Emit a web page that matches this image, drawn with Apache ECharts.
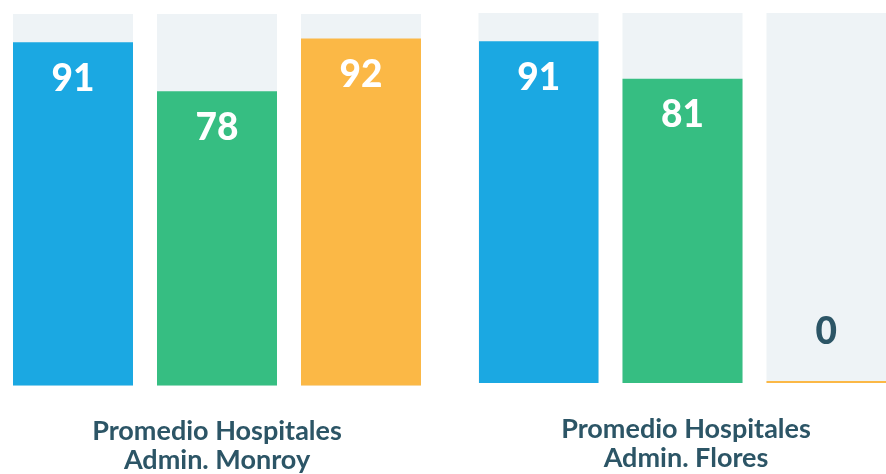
<!DOCTYPE html>
<html>
<head>
<meta charset="utf-8">
<script src="https://cdn.jsdelivr.net/npm/echarts@6/dist/echarts.min.js"></script>
<style>
html,body{margin:0;padding:0;background:#fff;}
#c{width:886px;height:474px;}
</style>
</head>
<body>
<div id="c"></div>
<script>
const groupLabels = ['Promedio Hospitales\nAdmin. Monroy', 'Promedio Hospitales\nAdmin. Flores'];
const blueValues = [91, 91];
const greenValues = [78, 81];
const orangeValues = [92, 0];
const axisMax = 98.5;

const colors = ['#1ba8e2', '#36be82', '#fbb846'];
const dark = '#2c5566';
const bg = '#eef3f6';

const chart = echarts.init(document.getElementById('c'));

function makeSeries(name, values, color) {
  return values.map((v, g) => ({
    type: 'bar',
    name: name,
    xAxisIndex: g,
    yAxisIndex: g,
    barWidth: 120,
    barGap: '20%',
    barMinHeight: 2,
    showBackground: true,
    backgroundStyle: { color: bg },
    itemStyle: { color: color },
    label: {
      show: true,
      position: 'insideTop',
      distance: 18,
      color: '#fff',
      fontFamily: 'Lato',
      fontWeight: 900,
      fontSize: 37
    },
    data: [v === 0 ? {
      value: v,
      label: { position: 'top', distance: 30, color: dark }
    } : v]
  }));
}

const all = [].concat(
  makeSeries('blue', blueValues, colors[0]),
  makeSeries('green', greenValues, colors[1]),
  makeSeries('orange', orangeValues, colors[2])
);
const series = [];
[0, 1].forEach(g => all.filter(s => s.xAxisIndex === g).forEach(s => series.push(s)));

chart.setOption({
  animation: false,
  grid: [
    { left: 13, width: 408, top: 14, height: 371.5, outerBoundsMode: 'none', containLabel: false },
    { left: 479, width: 407, top: 13, height: 370, outerBoundsMode: 'none', containLabel: false }
  ],
  xAxis: [0, 1].map(g => ({
    type: 'category',
    gridIndex: g,
    data: [groupLabels[g]],
    axisLine: { show: false },
    axisTick: { show: false },
    axisLabel: {
      margin: g === 0 ? 31 : 31.5,
      color: dark,
      fontFamily: 'Lato',
      fontWeight: 'bold',
      fontSize: 27,
      lineHeight: 29.5,
      align: 'center',
      padding: g === 1 ? [0, 0, 0, 7] : 0
    }
  })),
  yAxis: [0, 1].map(g => ({
    type: 'value',
    gridIndex: g,
    min: 0,
    max: axisMax,
    show: false
  })),
  series: series
});
</script>
</body>
</html>
